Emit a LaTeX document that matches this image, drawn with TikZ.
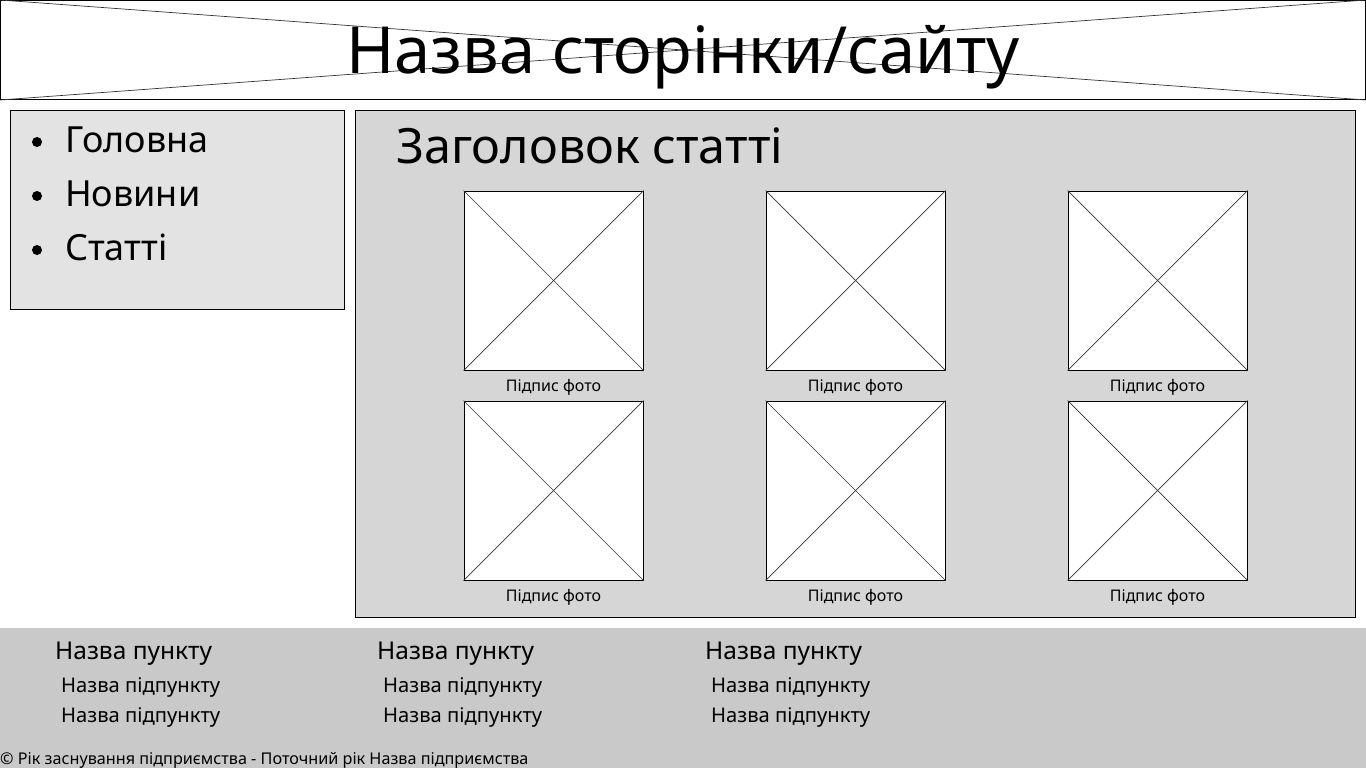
\documentclass[tikz,border=0pt]{standalone}
\usepackage{fontspec}
\setmainfont{Noto Sans}
\begin{document}
\begin{tikzpicture}[x=1pt,y=-1pt,
  txt/.style={inner sep=0pt, anchor=base west, text=black},
  sz/.style={font=\fontsize{#1}{#1}\selectfont},
  photo/.style={draw=black, fill=white, line width=1pt, minimum width=179pt, minimum height=179pt, inner sep=0pt},
  caption/.style={inner sep=0pt, anchor=base, sz=16},
  cross/.style={draw=black!80, line width=0.7pt}]
\useasboundingbox (0,0) rectangle (1366,768);
\fill[white] (0,0) rectangle (1366,768);

% page header with placeholder cross
\node[draw=black, line width=1pt, minimum width=1365pt, minimum height=99pt, inner sep=0pt] (header) at (683,50) {};
\draw[cross] (header.north west) -- (header.south east);
\draw[cross] (header.south west) -- (header.north east);
\node[inner sep=0pt, anchor=base, sz=65] (title) at (683,74) {Назва сторінки/сайту};

% navigation menu
\node[draw=black, fill=black!11, line width=1pt, minimum width=334pt, minimum height=199pt, inner sep=0pt] (menu) at (177.5,210) {};
\foreach \t/\yy [count=\i] in {Головна/152, Новини/206, Статті/260}{
  \fill (37,\yy-10) circle (5pt);
  \node[txt, sz=36] (m\i) at (65,\yy) {\t};
}

% article area
\node[draw=black, fill=black!16, line width=1pt, minimum width=1000pt, minimum height=507pt, inner sep=0pt] (article) at (855.5,364) {};
\node[txt, sz=48.5] (heading) at (396,163) {Заголовок статті};

\foreach \cx [count=\c] in {553.5,855.5,1157.5}{
  \foreach \cy [count=\r] in {280.5,490.5}{
    \node[photo] (p\r\c) at (\cx,\cy) {};
    \draw[cross] (p\r\c.north west) -- (p\r\c.south east);
    \draw[cross] (p\r\c.south west) -- (p\r\c.north east);
    \node[caption] (c\r\c) at (\cx,\cy+110.5) {Підпис фото};
  }
}

% footer
\fill[black!21] (0,628) rectangle (1366,768);
\foreach \hx/\sx [count=\k] in {55/61, 377/383, 705/711}{
  \node[txt, sz=24.5] (f\k) at (\hx,659) {Назва пункту};
  \node[txt, sz=20.2] (fa\k) at (\sx,692) {Назва підпункту};
  \node[txt, sz=20.2] (fb\k) at (\sx,722) {Назва підпункту};
}
\node[txt, sz=16.2] (copy) at (0,764) {© Рік заснування підприємства - Поточний рік Назва підприємства};
\end{tikzpicture}
\end{document}
